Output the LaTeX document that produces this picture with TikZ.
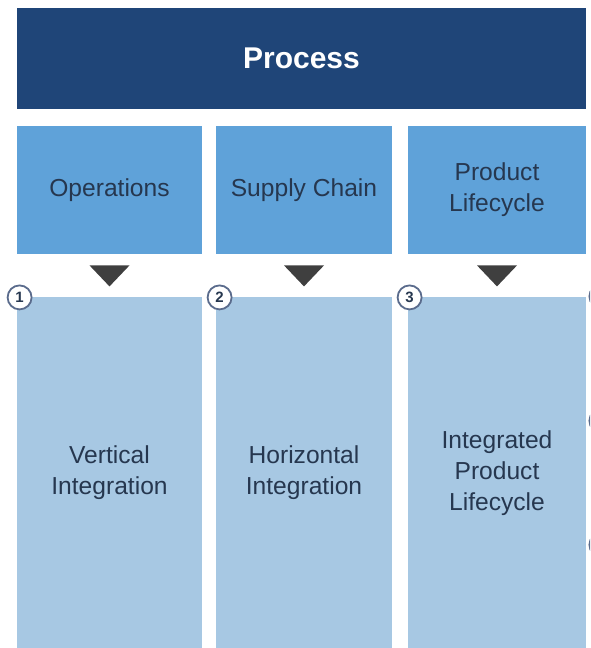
\documentclass[tikz,border=0pt]{standalone}
\usepackage{fontspec}
\setmainfont{Liberation Sans}
\usetikzlibrary{positioning, calc}

\definecolor{headblue}{HTML}{1F4578}
\definecolor{midblue}{HTML}{5FA2D9}
\definecolor{paleblue}{HTML}{A7C8E3}
\definecolor{inkblue}{HTML}{26374F}
\definecolor{ringblue}{HTML}{5A6B8C}
\definecolor{tipgray}{HTML}{3F3F3F}

\begin{document}
\begin{tikzpicture}[font=\fontsize{12.3}{15.5}\selectfont,
            header/.style={fill=headblue, text=white, minimum width=284.5pt, minimum height=50.5pt,
                           font=\fontsize{15}{18}\selectfont\bfseries},
            topic/.style={fill=midblue, text=inkblue, minimum height=64pt, align=center, inner sep=0pt},
            stage/.style={fill=paleblue, text=inkblue, minimum height=176pt, align=center, inner sep=0pt},
            badge/.style={circle, draw=ringblue, line width=0.9pt, fill=white, minimum size=12pt,
                          inner sep=0pt, text=inkblue, font=\fontsize{7.5}{8}\selectfont\bfseries},
            pointer/.style={fill=tipgray}]

            % page frame
            \useasboundingbox (0,0) rectangle (295pt,-324pt);
            \clip (0,0) rectangle (295pt,-324pt);

            % title bar
            \node[header] (process) at (150.75pt,-29.25pt) {Process};

            % process areas
            \node[topic, minimum width=92.5pt] (ops) at (54.75pt,-95pt) {Operations};
            \node[topic, minimum width=88pt] (supply) at (152pt,-95pt) {Supply Chain};
            \node[topic, minimum width=89pt] (life) at (248.5pt,-95pt) {Product\\Lifecycle};

            % integration stages
            \node[stage, minimum width=92.5pt, below=21pt of ops] (vert) {Vertical\\Integration};
            \node[stage, minimum width=88pt, below=21pt of supply] (horiz) {Horizontal\\Integration};
            \node[stage, minimum width=89pt, below=21pt of life] (integ) {Integrated\\Product\\Lifecycle};

            % pointers between the rows
            \fill[pointer] ($(ops.south)+(-10pt,-5.5pt)$) -- ++(20pt,0) -- ++(-10pt,-10.5pt) -- cycle;
            \fill[pointer] ($(supply.south)+(-10pt,-5.5pt)$) -- ++(20pt,0) -- ++(-10pt,-10.5pt) -- cycle;
            \fill[pointer] ($(life.south)+(-10pt,-5.5pt)$) -- ++(20pt,0) -- ++(-10pt,-10.5pt) -- cycle;

            % numbered badges
            \node[badge] (one) at ($(vert.north west)+(1.5pt,-0.5pt)$) {1};
            \node[badge] (two) at ($(horiz.north west)+(2pt,-0.5pt)$) {2};
            \node[badge] (three) at ($(integ.north west)+(1pt,-0.5pt)$) {3};

            % badges of the next column, cut by the page edge
            \node[badge] (four) at ($(integ.north east)+(7.5pt,0pt)$) {};
            \node[badge] (five) at ($(integ.east)+(7.5pt,26pt)$) {};
            \node[badge] (six) at ($(integ.east)+(7.5pt,-36pt)$) {};
        \end{tikzpicture}
\end{document}
